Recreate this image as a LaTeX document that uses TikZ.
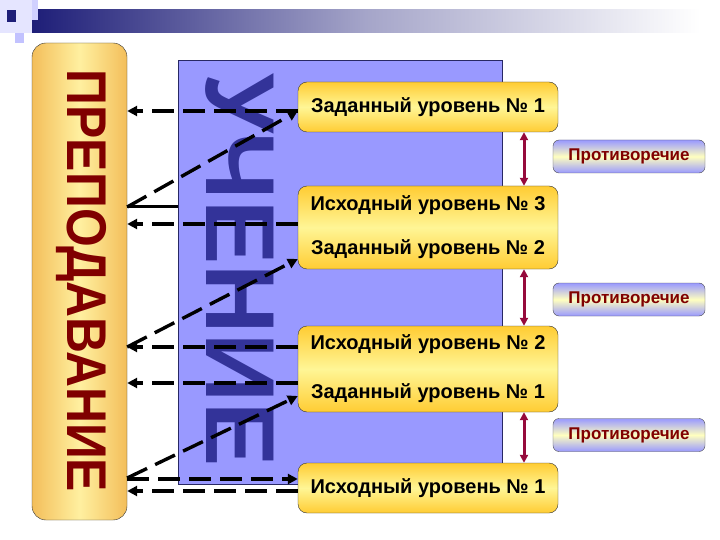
\documentclass[tikz,border=0pt]{standalone}
\usepackage{fontspec}
\setmainfont{Liberation Sans}
\usetikzlibrary{arrows.meta}
\definecolor{navyhead}{RGB}{30,30,120}
\definecolor{lilac}{RGB}{153,153,255}
\definecolor{deepred}{RGB}{128,0,0}
\definecolor{wine}{RGB}{150,10,60}
\definecolor{gold}{RGB}{255,204,51}
\definecolor{paleyellow}{RGB}{255,246,150}
\definecolor{ink}{RGB}{51,51,153}
\definecolor{sand}{RGB}{243,190,90}
\definecolor{cream}{RGB}{255,240,160}
\definecolor{frame}{RGB}{40,40,100}

\begin{document}
\begin{tikzpicture}[x=1pt,y=-1pt]
\tikzstyle{prepbox}=[draw=black!80,rounded corners=14pt,minimum width=95pt,minimum height=477pt,left color=sand,right color=sand,middle color=cream]
\tikzstyle{learnbox}=[draw=frame,fill=lilac,minimum width=324pt,minimum height=424pt]
\tikzstyle{stage}=[draw=black!80,rounded corners=9pt,minimum width=260pt,top color=gold,bottom color=gold,middle color=paleyellow,font=\bfseries\fontsize{20}{22}\selectfont,align=center]
\tikzstyle{conflict}=[draw=black!70,rounded corners=6pt,minimum width=152pt,minimum height=33pt,top color=lilac,bottom color=lilac,middle color=yellow!25,text=deepred,font=\bfseries\fontsize{17}{19}\selectfont]
\tikzstyle{link}=[line width=3.4pt,dash pattern=on 22pt off 9pt,-{Triangle[length=10pt,width=10pt]}]
\tikzstyle{clash}=[wine,line width=3pt,{Triangle[length=8pt,width=8pt]}-{Triangle[length=8pt,width=8pt]}]
\useasboundingbox (0,0) rectangle (720,540);
% header
\fill[lilac!25] (0,0) rectangle (38,33);
\shade[left color=navyhead,right color=white,middle color=navyhead!40!white] (32,10) rectangle (700,33);
\fill[navyhead] (7,10) rectangle (16,22);
\fill[lilac!45] (32,0) rectangle (38,20);
\fill[lilac!60] (15,33) rectangle (24,43);
% main blocks
\node [prepbox] (prep) at (79.5,281.5) {};
\node [rotate=-90,inner sep=0pt,text=deepred,font=\bfseries\fontsize{56}{56}\selectfont] (preptxt) at (81,281) {\scalebox{0.89}[1]{ПРЕПОДАВАНИЕ}};
\node [learnbox] (learn) at (340,272) {};
\node [rotate=-90,inner sep=0pt,text=ink,font=\bfseries\fontsize{98}{98}\selectfont] (learntxt) at (240,270) {\scalebox{0.98}[1]{УЧЕНИЕ}};
\node [stage,minimum height=50pt] (z1) at (428,107) {Заданный уровень № 1};
\node [stage,minimum height=83pt] (b2) at (428,227.5) {Исходный уровень № 3\\[22pt]Заданный уровень № 2};
\node [stage,minimum height=86pt] (b3) at (428,369) {Исходный уровень № 2\\[27pt]Заданный уровень № 1};
\node [stage,minimum height=50pt] (b4) at (428,488) {Исходный уровень № 1};
\node [conflict] (c1) at (629,156.5) {Противоречие};
\node [conflict] (c2) at (629,299.5) {Противоречие};
\node [conflict] (c3) at (629,435) {Противоречие};
% contradictions
\draw [clash] (524,0 |- z1.south) -- (524,0 |- b2.north);
\draw [clash] (524,0 |- b2.south) -- (524,0 |- b3.north);
\draw [clash] (524,0 |- b3.south) -- (524,0 |- b4.north);
% links
\draw [link] (z1.west |- 0,111) -- (prep.east |- 0,111);
\draw [link] (prep.east |- 0,207) -- (z1.west |- 0,111);
\draw [line width=3pt] (prep.east |- 0,207) -- (learn.west |- 0,207);
\draw [link] (b2.west |- 0,224) -- (prep.east |- 0,224);
\draw [link] (prep.east |- 0,347) -- (b2.west |- 0,259);
\draw [link] (b3.west |- 0,347) -- (prep.east |- 0,347);
\draw [link] (b3.west |- 0,383) -- (prep.east |- 0,383);
\draw [link] (prep.east |- 0,478) -- (b3.west |- 0,396);
\draw [link] (prep.east |- 0,479) -- (b4.west |- 0,479);
\draw [link] (b4.west |- 0,491) -- (prep.east |- 0,491);
\end{tikzpicture}
\end{document}
